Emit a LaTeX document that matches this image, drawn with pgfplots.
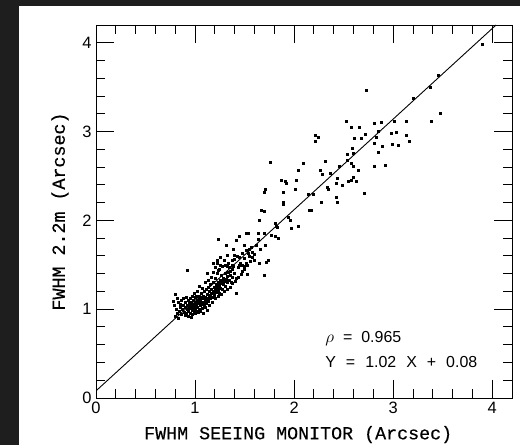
\documentclass[border=0pt]{standalone}
\usepackage{fontspec}
\setmainfont{Liberation Sans}
\newfontfamily\monofont[FakeBold=0.4]{Liberation Mono}
\usepackage{pgfplots}
\pgfplotsset{compat=1.18}
\definecolor{Frame}{HTML}{1E1E1E}

\begin{document}
\begin{tikzpicture}[x=1bp,y=1bp]
  \useasboundingbox (-96,-47) rectangle (424,398);
  \fill[Frame] (-96,-47) rectangle (424,398);
  \fill[white] (-77,-47) rectangle (424,392);
  \begin{axis}[
    at={(0,0)},anchor=south west,
    scale only axis,width=416bp,height=373bp,
    xmin=0,xmax=4.2,ymin=0,ymax=4.2,
    xtick={0,1,2,3,4},ytick={0,1,2,3,4},
    minor x tick num=4,minor y tick num=4,
    tick align=inside,tick pos=both,
    major tick length=18bp,minor tick length=9bp,
    axis line style={line width=0.9bp},
    every tick/.style={black,line width=0.9bp},
    /pgf/number format/assume math mode=true,
    tick label style={font=\fontsize{16.5}{18}\selectfont},
    xticklabel style={yshift=-1bp},
    yticklabel style={xshift=-1bp},
    xlabel={\monofont FWHM SEEING MONITOR (Arcsec)},
    ylabel={\monofont FWHM 2.2m (Arcsec)},
    label style={font=\fontsize{18.4}{20}\selectfont},
    xlabel style={at={(axis description cs:0.486,-0.098)},anchor=center},
    ylabel style={at={(axis description cs:-0.0865,0.5)},anchor=center},
  ]
    % fitted relation Y = 1.02 X + 0.08
    \addplot[black,line width=0.9bp] coordinates {(0,0.08)(4.039,4.2)};
    \addplot[only marks,mark=square*,mark size=1.0bp,black] coordinates {
      (3.90,3.98)(3.45,3.64)(3.37,3.50)(3.20,3.38)(3.48,3.21)(3.38,3.12)
      (2.73,3.47)(3.13,3.12)(3.01,3.12)(2.88,3.11)(2.81,3.09)(2.53,3.12)
      (2.58,3.05)(2.66,3.05)(2.72,2.97)(2.61,2.92)(2.68,2.93)(2.85,3.00)
      (2.83,2.94)(2.98,2.98)(3.03,2.99)(3.13,2.96)(3.16,2.89)(2.99,2.86)
      (3.05,2.85)(2.89,2.84)(2.81,2.87)(2.85,2.77)(2.59,2.81)(2.60,2.76)
      (2.54,2.74)(2.54,2.68)(2.58,2.64)(2.65,2.56)(2.60,2.61)(2.81,2.61)
      (2.92,2.62)(2.58,2.45)(2.60,2.49)(2.63,2.44)(2.55,2.44)(2.71,2.31)
      (2.44,2.47)(2.49,2.40)(2.43,2.42)(2.46,2.61)(2.36,2.53)(2.31,2.67)
      (2.26,2.57)(2.28,2.52)(2.33,2.37)(2.34,2.35)(2.27,2.20)(2.43,2.26)
      (2.44,2.20)(2.21,2.96)(2.24,2.94)(2.21,2.89)(2.09,2.64)(2.04,2.56)
      (2.02,2.45)(2.01,2.35)(2.14,2.29)(2.19,2.29)(2.17,2.12)(2.15,2.11)
      (1.76,2.65)(1.71,2.35)(1.70,2.32)(1.87,2.45)(1.91,2.44)(1.92,2.42)
      (1.89,2.32)(1.89,2.21)(1.89,2.18)(1.94,2.04)(1.96,2.00)(1.97,1.91)
      (2.04,1.93)(1.67,2.11)(1.70,2.10)(1.65,2.00)(1.81,1.97)(1.82,1.94)
      (1.83,1.92)(1.70,1.85)(1.77,1.83)(1.81,1.82)(1.84,1.80)(1.64,1.85)
      (1.54,1.86)(1.52,1.85)(1.64,1.79)(1.66,1.68)(1.71,1.72)(1.74,1.55)
      (1.72,1.53)(1.65,1.52)(1.70,1.38)(1.54,1.63)(1.55,1.68)(1.58,1.59)
      (1.60,1.55)(1.52,1.52)(1.53,1.39)(1.45,1.82)(1.42,1.78)(1.50,1.72)
      (1.39,1.67)(1.40,1.61)(1.32,1.61)(1.37,1.55)(1.45,1.49)(1.39,1.48)
      (1.50,1.48)(1.23,1.79)(1.31,1.72)(1.25,1.59)(1.22,1.55)(1.18,1.52)
      (1.32,1.48)(1.35,1.43)(1.25,1.50)(1.23,1.44)(1.42,1.18)(0.92,1.44)
      (0.80,0.92)(0.82,0.95)(0.81,1.00)(0.79,1.05)(0.84,0.98)(0.85,1.02)
      (0.83,1.08)(0.80,1.17)(0.86,0.94)(0.87,1.00)(0.88,1.05)(0.86,1.10)
      (0.89,0.97)(0.90,1.02)(0.90,1.08)(0.91,0.95)(0.92,1.00)(0.92,1.05)
      (0.93,1.10)(0.93,0.98)(0.94,1.03)(0.94,1.07)(0.95,0.96)(0.95,1.01)
      (0.95,1.12)(0.96,1.04)(0.96,1.08)(0.97,0.99)(0.97,1.02)(0.97,1.15)
      (0.98,1.06)(0.98,1.10)(0.99,0.97)(0.99,1.03)(1.00,1.00)(1.00,1.08)
      (1.00,1.13)(1.01,1.05)(1.01,0.98)(1.02,1.10)(1.02,1.02)(1.03,1.07)
      (1.03,1.15)(1.04,1.00)(1.04,1.12)(1.05,1.04)(1.05,1.09)(1.06,1.18)
      (1.06,1.06)(1.07,1.01)(1.07,1.12)(1.08,1.08)(1.08,1.15)(1.09,1.05)
      (1.09,1.20)(1.10,1.10)(1.10,1.14)(1.11,1.07)(1.11,1.22)(1.12,1.12)
      (1.12,1.17)(1.13,1.09)(1.13,1.25)(1.14,1.15)(1.14,1.20)(1.15,1.12)
      (1.15,1.28)(1.16,1.18)(1.16,1.23)(1.17,1.14)(1.18,1.20)(1.18,1.30)
      (1.19,1.25)(1.19,1.17)(1.20,1.22)(1.20,1.35)(1.21,1.28)(1.21,1.19)
      (1.22,1.25)(1.22,1.40)(1.23,1.30)(1.23,1.21)(1.24,1.27)(1.25,1.33)
      (1.25,1.24)(1.26,1.38)(1.26,1.29)(1.27,1.22)(1.28,1.35)(1.28,1.28)
      (1.29,1.31)(1.30,1.40)(1.30,1.26)(1.31,1.34)(1.32,1.30)(1.32,1.37)
      (1.33,1.42)(1.34,1.33)(1.35,1.38)(1.36,1.30)(1.37,1.45)(1.38,1.36)
      (1.40,1.41)(1.42,1.35)(1.44,1.47)(1.46,1.52)(1.48,1.43)
      (0.90,0.93)(0.93,0.92)(0.97,0.94)(1.00,0.95)(1.03,0.97)(1.05,0.98)
      (0.88,1.12)(0.91,1.14)(0.85,1.06)(0.99,1.18)(1.02,1.20)(1.07,1.24)
      (1.04,1.26)(1.10,1.30)(1.13,1.33)(1.16,1.36)(1.12,1.40)(1.18,1.42)
      (1.20,1.47)(1.24,1.45)(1.27,1.48)(1.30,1.50)(1.33,1.52)(1.29,1.55)
      (1.22,1.52)(1.10,1.02)(1.14,1.05)(1.17,1.08)(1.20,1.12)(1.23,1.15)
      (1.26,1.17)(1.29,1.20)(1.32,1.23)(1.35,1.25)(1.38,1.29)(1.41,1.31)
      (1.44,1.36)(1.47,1.39)(1.12,0.99)(1.08,0.96)(0.96,0.91)(0.83,0.90)
      (0.78,1.09)(0.82,1.12)(1.01,1.15)(1.06,1.13)(1.15,1.16)(1.19,1.13)
      (1.24,1.18)(1.27,1.32)(1.34,1.47)(1.37,1.50)(1.40,1.56)(1.43,1.60)
      (1.45,1.58)(1.48,1.63)(1.50,1.57)(1.52,1.66)(1.55,1.60)(1.57,1.70)
      (1.58,1.64)(1.60,1.62)(1.62,1.72)(1.48,1.49)(1.50,1.45)(1.53,1.50)
      (1.56,1.54)
    };
    \node[anchor=base west,font=\fontsize{16}{18}\selectfont] at (axis cs:2.28,0.63)
      {$\rho$\hspace{9bp}=\hspace{9bp}0.965};
    \node[anchor=base west,font=\fontsize{16}{18}\selectfont] at (axis cs:2.28,0.34)
      {Y\hspace{10bp}=\hspace{10bp}1.02\hspace{10bp}X\hspace{10bp}+\hspace{10bp}0.08};
  \end{axis}
\end{tikzpicture}
\end{document}
